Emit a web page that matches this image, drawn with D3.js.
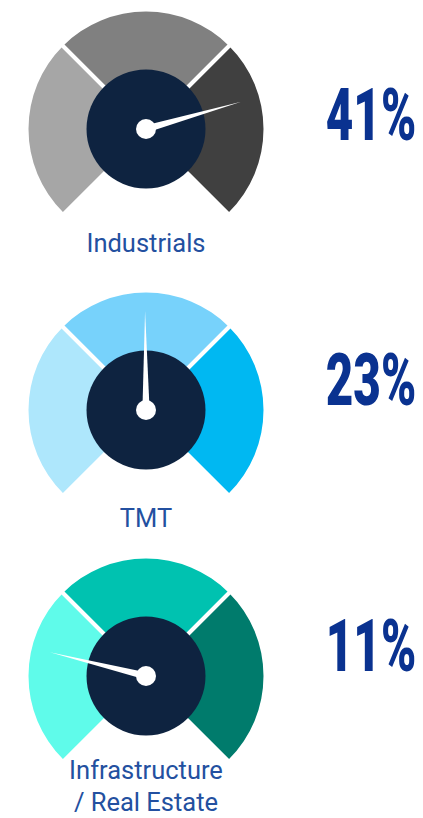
<!DOCTYPE html>
<html lang="en">
<head>
  <meta charset="UTF-8">
  <title>Gauges</title>
  <script src="https://d3js.org/d3.v7.min.js"></script>
  <style>
    body { margin: 0; background: #fff; }
    svg { display: block; }
  </style>
</head>
<body>
  <svg></svg>
  <script>
    // data
    const sectors = ["Industrials", "TMT", "Infrastructure / Real Estate"];
    const shares = [41, 23, 11];
    // where each needle sits on the dial, 0 = far left end, 1 = far right end
    const dialPos = [0.774, 0.498, 0.218];
    const labelLines = [["Industrials"], ["TMT"], ["Infrastructure", "/ Real Estate"]];
    const palettes = [
      ["#a6a6a6", "#808080", "#404040"],
      ["#aee7fc", "#77d2fb", "#00b8f2"],
      ["#5ffbea", "#00c2b0", "#007b6c"]
    ];

    const width = 423, height = 818;
    const cx = 146;
    const rowY = [129, 410, 676];
    const labelY = [252, 527, 779];
    const pctY = [140, 405, 671];
    const outerR = 117.5, hubR = 59.5, pinR = 10, needleLen = 99;
    const navy = "#0e2340";

    const svg = d3.select("svg")
      .attr("width", width)
      .attr("height", height);

    const angle = d3.scaleLinear().domain([0, 1]).range([-135, 135]);
    const rad = d => d * Math.PI / 180;

    const arc = d3.arc().innerRadius(30).outerRadius(outerR);

    sectors.forEach((name, i) => {
      const g = svg.append("g")
        .attr("transform", `translate(${cx},${rowY[i]})`);

      // three 90 degree bands
      const bands = [[-135, -45], [-45, 45], [45, 135]];
      g.selectAll("path.band")
        .data(bands)
        .enter().append("path")
        .attr("class", "band")
        .attr("d", d => arc({ startAngle: rad(d[0]), endAngle: rad(d[1]) }))
        .attr("fill", (d, j) => palettes[i][j]);

      // white gaps between bands
      [-45, 45].forEach(a => {
        g.append("line")
          .attr("x1", 0).attr("y1", 0)
          .attr("x2", Math.sin(rad(a)) * (outerR + 2))
          .attr("y2", -Math.cos(rad(a)) * (outerR + 2))
          .attr("stroke", "#fff")
          .attr("stroke-width", 4);
      });

      g.append("circle").attr("r", hubR).attr("fill", navy);

      // needle
      const a = angle(dialPos[i]);
      g.append("path")
        .attr("d", `M${-3.6},0 L${3.6},0 L0,${-needleLen} Z`)
        .attr("transform", `rotate(${a})`)
        .attr("fill", "#fff");
      g.append("circle").attr("r", pinR).attr("fill", "#fff");

      // sector label
      const t = svg.append("text")
        .attr("x", cx)
        .attr("y", labelY[i])
        .attr("text-anchor", "middle")
        .attr("font-family", "Roboto, sans-serif")
        .attr("font-size", 25.5)
        .attr("font-weight", 400)
        .attr("fill", "#2350a0");
      labelLines[i].forEach((line, k) => {
        t.append("tspan")
          .attr("x", cx)
          .attr("dy", k === 0 ? 0 : 32)
          .text(line);
      });

      // percentage
      svg.append("text")
        .attr("transform", `translate(371,${pctY[i]}) scale(0.66,1)`)
        .attr("text-anchor", "middle")
        .attr("font-family", "Roboto, sans-serif")
        .attr("font-size", 72)
        .attr("font-weight", 900)
        .attr("fill", "#0a3290")
        .text(shares[i] + "%");
    });
  </script>
</body>
</html>
